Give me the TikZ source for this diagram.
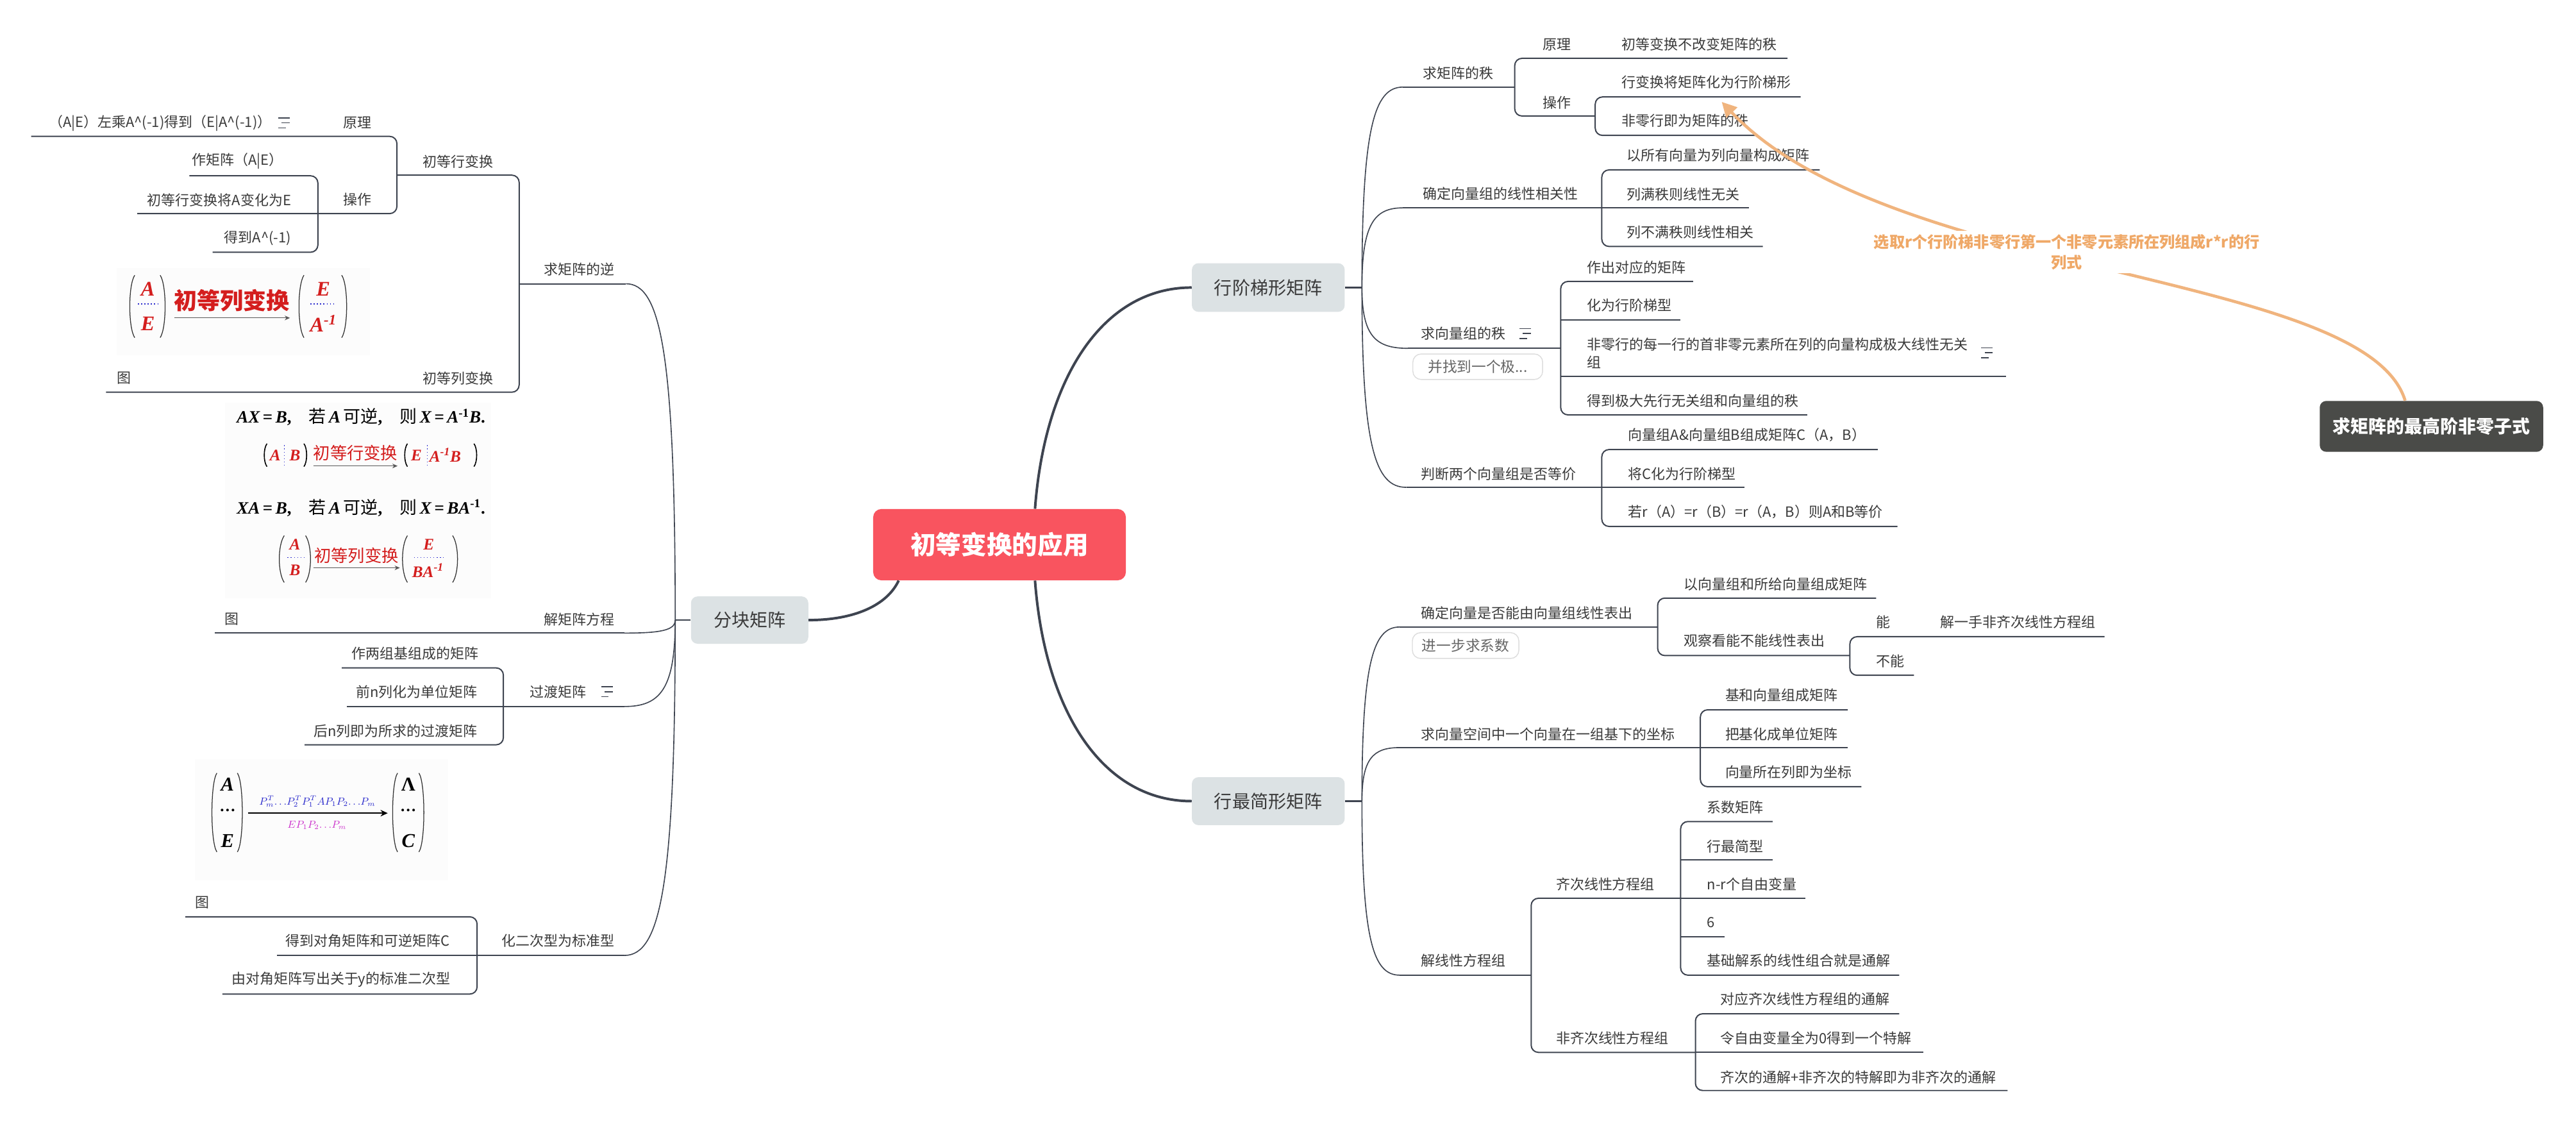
\documentclass[tikz,border=0pt]{standalone}
\usepackage{fontspec}
\setmainfont{Noto Sans CJK SC}
\newfontfamily\tms{Liberation Serif}
\usetikzlibrary{calc,arrows.meta}
\definecolor{ln}{HTML}{3E4450}
\definecolor{txt}{HTML}{3A3A3A}
\definecolor{boxfill}{HTML}{DCE2E4}
\definecolor{rootred}{HTML}{F9545F}
\definecolor{floatbg}{HTML}{4A4B48}
\definecolor{orng}{HTML}{F0B47E}
\definecolor{orngtxt}{HTML}{EFA867}
\definecolor{imgred}{HTML}{D41E1E}
\definecolor{imgblue}{HTML}{2A2ACC}
\definecolor{imgmag}{HTML}{CC33CC}
\definecolor{lblgray}{HTML}{666666}
\definecolor{lblborder}{HTML}{DDDDDD}
\definecolor{imgbg}{HTML}{FCFCFC}
\newcommand{\myfs}[2]{\fontsize{#1pt}{#2pt}\selectfont}
\newcommand{\imi}[1]{{\tms\bfseries\itshape #1}}
\newcommand{\irm}[1]{{\tms\bfseries #1}}
\newcommand{\noteicon}[2]{\draw[ln, line width=0.9pt] (#1,#2-3) -- ++(7,0) (#1+2,#2) -- ++(5,0) (#1,#2+3) -- ++(4.5,0);}
\newcommand{\myLpar}[3]{\draw[black!80, line width=0.7pt] (#1,#2) .. controls (#1-4,#2+6) and (#1-4,#3-6) .. (#1,#3);}
\newcommand{\myRpar}[3]{\draw[black!80, line width=0.7pt] (#1,#2) .. controls (#1+4,#2+6) and (#1+4,#3-6) .. (#1,#3);}
\newcommand{\mySLpar}[3]{\draw[black, line width=0.9pt] (#1,#2) .. controls (#1-2.2,#2+3) and (#1-2.2,#3-3) .. (#1,#3);}
\newcommand{\mySRpar}[3]{\draw[black, line width=0.9pt] (#1,#2) .. controls (#1+2.2,#2+3) and (#1+2.2,#3-3) .. (#1,#3);}
\tikzset{
  tnode/.style={inner sep=0pt, anchor=west, text=txt, font=\myfs{12.2}{15.6}},
  tnodeL/.style={tnode, anchor=east},
  uline/.style={draw=ln, line width=1.1pt, rounded corners=2.2mm},
  fanline/.style={draw=ln, line width=0.9pt, to path={.. controls ($(\tikztostart)!0.8!(\tikztostart |- \tikztotarget)$) and ($(\tikztostart |- \tikztotarget)!0.3!(\tikztotarget)$) .. (\tikztotarget)}},
  mainline/.style={draw=ln, line width=2.2pt},
  stub/.style={draw=ln, line width=1.2pt},
  mainbox/.style={fill=boxfill, rounded corners=2mm, text=txt, font=\myfs{15.6}{19}, inner sep=0pt},
  rootbox/.style={fill=rootred, rounded corners=2.5mm, text=white, font=\bfseries\myfs{22}{26}, inner sep=0pt},
  floatbox/.style={fill=floatbg, rounded corners=2mm, text=white, font=\bfseries\myfs{15.5}{19}, inner sep=0pt},
  lblbox/.style={draw=lblborder, line width=0.8pt, rounded corners=2.5mm, text=lblgray, font=\myfs{12.6}{15}, inner sep=0pt},
  redltr/.style={inner sep=0pt, text=imgred, font=\tms\bfseries\itshape\myfs{18}{18}},
  redsm/.style={inner sep=0pt, text=imgred, font=\tms\bfseries\itshape\myfs{14}{14}},
  blkltr/.style={inner sep=0pt, text=black, font=\tms\bfseries\itshape\myfs{17}{17}},
  imgline/.style={anchor=west, inner sep=0pt, text=black, font=\myfs{15}{17}},
  imgarrow/.style={draw=black!65, line width=0.6pt, -{Stealth[length=1.6mm,width=1.4mm]}},
  bluedots/.style={draw=imgblue, line width=0.8pt, dotted}
}
\begin{document}
\begin{tikzpicture}[x=0.5mm, y=-0.5mm]
\fill[white] (0,0) rectangle (1568,684);
\useasboundingbox (0,0) rectangle (1568,684);

% ---------- central and main topics ----------
\node[rootbox, minimum width=76.9mm, minimum height=21.7mm] (root) at (608.4,331.5) {初等变换的应用};
\node[mainbox, minimum width=46.5mm, minimum height=14.8mm] (hjt) at (772,175) {行阶梯形矩阵};
\node[mainbox, minimum width=46.5mm, minimum height=14.6mm] (hzj) at (772,487.6) {行最简形矩阵};
\node[mainbox, minimum width=35.7mm, minimum height=14.4mm] (fk) at (456.3,377.4) {分块矩阵};

\draw[mainline] ([xshift=10.8mm]root.north) .. controls +(6,-80) and +(-54,0) .. (hjt.west);
\draw[mainline] ([xshift=10.8mm]root.south) .. controls +(6,80) and +(-54,0) .. (hzj.west);
\draw[mainline] ([xshift=-30.7mm]root.south) .. controls +(-7,15) and +(28,0) .. (fk.east);

\coordinate (J1) at (829,175);
\coordinate (J2) at (829,487.6);
\coordinate (J3) at (411,377.4);
\draw[stub] (hjt.east) -- (J1);
\draw[stub] (hzj.east) -- (J2);
\draw[stub] (fk.west) -- (J3);

% ---------- right upper: 行阶梯形矩阵 ----------
\coordinate (a1) at (854,53);
\coordinate (a2) at (854,126.5);
\coordinate (a3) at (857,212);
\coordinate (a4) at (856,296.6);
\draw[fanline] (J1) to (a1);
\draw[fanline] (J1) to (a2);
\draw[fanline] (J1) to (a3);
\draw[fanline] (J1) to (a4);

\draw[uline] (a1) -- (922,53);
\draw[uline] (1088,35.5) -- (922,35.5) -- (922,70.6) -- (971,70.6);
\draw[uline] (1096,59) -- (971,59) -- (971,82.4) -- (1070,82.4);
\draw[uline] (a2) -- (1064.6,126.5);
\draw[uline] (1107.6,103.4) -- (975,103.4) -- (975,150) -- (1073,150);
\draw[uline] (a3) -- (950,212);
\draw[uline] (1030.6,171.3) -- (950,171.3) -- (950,252.5) -- (1100,252.5);
\draw[uline] (950,194.7) -- (1023,194.7);
\draw[uline] (950,229) -- (1221,229);
\draw[uline] (a4) -- (1062,296.6);
\draw[uline] (1143,273.6) -- (975,273.6) -- (975,320.4) -- (1155,320.4);

\node[tnode] (qjzdz) at (866,44.5) {求矩阵的秩};
\node[tnode] (yl1) at (939,27) {原理};
\node[tnode] (cdbh) at (987,27) {初等变换不改变矩阵的秩};
\node[tnode] (cz1) at (939,62.5) {操作};
\node[tnode] (hbh) at (987,50) {行变换将矩阵化为行阶梯形};
\node[tnode] (flh) at (987,73.5) {非零行即为矩阵的秩};
\node[tnode] (qdxl) at (866,118) {确定向量组的线性相关性};
\node[tnode] (ysy) at (990,94.4) {以所有向量为列向量构成矩阵};
\node[tnode] (lmz) at (990,118.3) {列满秩则线性无关};
\node[tnode] (lbm) at (990,141.3) {列不满秩则线性相关};
\node[tnode] (qxlz) at (865,203) {求向量组的秩};
\noteicon{925}{203}
\node[lblbox, minimum width=39.5mm, minimum height=7.75mm] (lb1) at (899.5,223.2) {并找到一个极...};
\node[tnode] (zcdy) at (966,162.7) {作出对应的矩阵};
\node[tnode] (hwjt) at (966,186) {化为行阶梯型};
\node[tnode, align=left] (flmy) at (966,215) {非零行的每一行的首非零元素所在列的向量构成极大线性无关\\组};
\noteicon{1206}{214.7}
\node[tnode] (ddjd) at (966,244) {得到极大先行无关组和向量组的秩};
\node[tnode] (pdlg) at (865,288.4) {判断两个向量组是否等价};
\node[tnode] (xlzA) at (991,264.6) {向量组A\&向量组B组成矩阵C（A，B）};
\node[tnode] (jCh) at (991,288.4) {将C化为行阶梯型};
\node[tnode] (rA) at (991,311.5) {若r（A）=r（B）=r（A，B）则A和B等价};

% ---------- right lower: 行最简形矩阵 ----------
\coordinate (b1) at (852,381.6);
\coordinate (b2) at (852,455);
\coordinate (b3) at (852,593.5);
\draw[fanline] (J2) to (b1);
\draw[fanline] (J2) to (b2);
\draw[fanline] (J2) to (b3);

\draw[uline] (b1) -- (1009,381.6);
\draw[uline] (1142,364) -- (1009,364) -- (1009,399) -- (1126,399);
\draw[uline] (1281,387.5) -- (1126,387.5) -- (1126,411) -- (1165,411);
\draw[uline] (b2) -- (1124.7,455);
\draw[uline] (1124.7,432) -- (1035,432) -- (1035,478.8) -- (1133,478.8);
\draw[uline] (b3) -- (932,593.5);
\draw[uline] (1023,546.7) -- (932,546.7) -- (932,640.5) -- (1032,640.5);
\draw[uline] (1079,500) -- (1023,500) -- (1023,593.5) -- (1156,593.5);
\draw[uline] (1023,523.3) -- (1079,523.3);
\draw[uline] (1023,546.7) -- (1099,546.7);
\draw[uline] (1023,570) -- (1049.7,570);
\draw[uline] (1156,617) -- (1032,617) -- (1032,663.7) -- (1222,663.7);
\draw[uline] (1032,640.5) -- (1170.6,640.5);

\node[tnode] (qdxs) at (865,373) {确定向量是否能由向量组线性表出};
\node[lblbox, minimum width=32.4mm, minimum height=7.85mm] (lb2) at (892.1,392.9) {进一步求系数};
\node[tnode] (yxlz) at (1025,355.5) {以向量组和所给向量组成矩阵};
\node[tnode] (gcks) at (1025,390) {观察看能不能线性表出};
\node[tnode] (neng) at (1142,378.6) {能};
\node[tnode] (jyfc) at (1181,378.6) {解一手非齐次线性方程组};
\node[tnode] (buneng) at (1142,402.3) {不能};
\node[tnode] (qxlkj) at (865,446.8) {求向量空间中一个向量在一组基下的坐标};
\node[tnode] (jhxl) at (1050,423) {基和向量组成矩阵};
\node[tnode] (bjh) at (1050,446.8) {把基化成单位矩阵};
\node[tnode] (xlsz) at (1050,470) {向量所在列即为坐标};
\node[tnode] (jxxf) at (865,584.7) {解线性方程组};
\node[tnode] (qcxx) at (947,538) {齐次线性方程组};
\node[tnode] (xsjz) at (1039,491.4) {系数矩阵};
\node[tnode] (hzjx) at (1039,515) {行最简型};
\node[tnode] (nr) at (1039,538) {n-r个自由变量};
\node[tnode] (six) at (1039,561.6) {6};
\node[tnode] (jcjx) at (1039,584.7) {基础解系的线性组合就是通解};
\node[tnode] (fqcx) at (947,631.8) {非齐次线性方程组};
\node[tnode] (dyqc) at (1047,608) {对应齐次线性方程组的通解};
\node[tnode] (lzyb) at (1047,631.8) {令自由变量全为0得到一个特解};
\node[tnode] (qcdt) at (1047,655.6) {齐次的通解+非齐次的特解即为非齐次的通解};

% ---------- left: 分块矩阵 ----------
\coordinate (c1) at (381,172.7);
\coordinate (c2) at (380,385.3);
\coordinate (c3) at (380,430);
\coordinate (c4) at (380,581.5);
\draw[fanline] (J3) to (c1);
\draw[fanline] (J3) to (c2);
\draw[fanline] (J3) to (c3);
\draw[fanline] (J3) to (c4);

\draw[uline] (c1) -- (316,172.7);
\draw[uline] (241.6,106.6) -- (316,106.6) -- (316,238.7) -- (64.5,238.7);
\draw[uline] (19,83) -- (241.6,83) -- (241.6,130) -- (83.6,130);
\draw[uline] (115.3,107) -- (193.5,107) -- (193.5,153.5) -- (129.4,153.5);
\draw[uline] (c2) -- (130.8,385.3);
\draw[uline] (c3) -- (211,430);
\draw[uline] (208,406.5) -- (306.4,406.5) -- (306.4,453.3) -- (185.4,453.3);
\draw[uline] (c4) -- (168.5,581.5);
\draw[uline] (112.8,558) -- (290.4,558) -- (290.4,605) -- (135.4,605);

\node[tnodeL] (qjzdn) at (374.3,164) {求矩阵的逆};
\node[tnodeL] (cdhbh) at (300.4,98.3) {初等行变换};
\node[tnodeL] (yl2) at (226.3,74.8) {原理};
\node[tnode] (AE) at (29.6,74.8) {（A|E）左乘A\textasciicircum(-1)得到（E|A\textasciicircum(-1)）};
\noteicon{169.4}{74.8}
\node[tnodeL] (cz2) at (226.3,121.6) {操作};
\node[tnodeL] (zjz) at (172.4,98.2) {作矩阵（A|E）};
\node[tnodeL] (cdA) at (177.3,121.6) {初等行变换将A变化为E};
\node[tnodeL] (ddA) at (177.3,145) {得到A\textasciicircum(-1)};
\node[tnodeL] (cdlbh) at (300.4,230.2) {初等列变换};
\node[tnode] (tu1) at (70.9,230.2) {图};
\node[tnodeL] (jjzfc) at (374.3,377) {解矩阵方程};
\node[tnode] (tu2) at (136.6,377) {图};
\node[tnodeL] (gdjz) at (357,421) {过渡矩阵};
\noteicon{366}{421}
\node[tnodeL] (zlzj) at (291.5,397.6) {作两组基组成的矩阵};
\node[tnodeL] (qnl) at (290.7,421) {前n列化为单位矩阵};
\node[tnodeL] (hnl) at (290.7,445) {后n列即为所求的过渡矩阵};
\node[tnodeL] (hecx) at (374.3,572.5) {化二次型为标准型};
\node[tnode] (tu3) at (118.8,549.4) {图};
\node[tnodeL] (ddjz) at (273.8,572.5) {得到对角矩阵和可逆矩阵C};
\node[tnodeL] (ydjz) at (274.2,596.4) {由对角矩阵写出关于y的标准二次型};

% ---------- image 1 ----------
\fill[imgbg] (70.9,163) rectangle (225.3,216);
\myLpar{82}{167.5}{205.5}
\myRpar{97.5}{167.5}{205.5}
\node[redltr] (i1a) at (90,176) {A};
\draw[bluedots] (84,185) -- (96,185);
\node[redltr] (i1e) at (90,197) {E};
\node[inner sep=0pt, text=imgred, font=\bfseries\myfs{20}{20}] (i1t) at (141,183) {初等列变换};
\draw[imgarrow] (106,193.5) -- (176.5,193.5);
\myLpar{185}{167.5}{205.5}
\myRpar{208}{167.5}{205.5}
\node[redltr] (i1e2) at (196.8,176) {E};
\draw[bluedots] (189,185) -- (204,185);
\node[redltr] (i1ai) at (196.8,197) {A\textsuperscript{-1}};

% ---------- image 2 ----------
\fill[imgbg] (137,245) rectangle (299,364);
\node[imgline] (l1) at (144,253.7) {\imi{AX}\irm{\,=\,}\imi{B}\irm{,}\quad 若\,\imi{A}\,可逆\irm{,}\quad 则\,\imi{X}\irm{\,=\,}\imi{A}\textsuperscript{\irm{-1}}\imi{B}\irm{.}};
\mySLpar{162.5}{270}{284}
\node[redsm] (l2a) at (167.5,277) {A};
\draw[bluedots] (173,271) -- (173,283);
\node[redsm] (l2b) at (179.5,277) {B};
\mySRpar{185}{270}{284}
\node[inner sep=0pt, text=imgred, font=\myfs{14.6}{15}] (l2t) at (216.4,275.5) {初等行变换};
\draw[imgarrow] (190.7,283.6) -- (242,283.6);
\mySLpar{248}{270}{284}
\node[redsm] (l2e) at (253.5,277) {E};
\draw[bluedots] (260,271) -- (260,283);
\node[redsm] (l2ai) at (271,277) {A\textsuperscript{-1}B};
\mySRpar{288.5}{270}{284}
\node[imgline] (l3) at (144,309) {\imi{XA}\irm{\,=\,}\imi{B}\irm{,}\quad 若\,\imi{A}\,可逆\irm{,}\quad 则\,\imi{X}\irm{\,=\,}\imi{BA}\textsuperscript{\irm{-1}}\irm{.}};
\myLpar{173}{326}{354.5}
\node[redsm] (l4a) at (179.5,331.3) {A};
\draw[bluedots] (175,339.4) -- (185,339.4);
\node[redsm] (l4b) at (179.5,347.2) {B};
\myRpar{186}{326}{354.5}
\node[inner sep=0pt, text=imgred, font=\myfs{14.6}{15}] (l4t) at (217,338) {初等列变换};
\draw[imgarrow] (190.7,345.6) -- (243.4,345.6);
\myLpar{248}{326}{354.5}
\node[redsm] (l4e) at (261,331.3) {E};
\draw[bluedots] (252,339.4) -- (270,339.4);
\node[redsm] (l4bai) at (260.5,347.2) {BA\textsuperscript{-1}};
\myRpar{275.5}{326}{354.5}

% ---------- image 3 ----------
\fill[imgbg] (118.8,462) rectangle (272.6,535.8);
\myLpar{132}{470.5}{518.5}
\myRpar{144.5}{470.5}{518.5}
\node[blkltr] (i3a) at (138.5,477.4) {A};
\node[blkltr, font=\tms\bfseries\myfs{14}{14}] (i3d) at (138.5,493) {…};
\node[blkltr] (i3e) at (138.5,511.9) {E};
\draw[draw=black, line width=0.9pt, -{Stealth[length=2.2mm,width=2mm]}] (150.9,494.9) -- (236,494.9);
\node[inner sep=0pt, text=imgblue, font=\myfs{8.6}{8.6}] (i3u) at (193.2,487.8) {$P_m^T\!\ldots\! P_2^T P_1^T A P_1 P_2\!\ldots\! P_m$};
\node[inner sep=0pt, text=imgmag, font=\myfs{8.6}{8.6}] (i3l) at (193,502.2) {$E P_1 P_2\!\ldots\! P_m$};
\myLpar{242}{470.5}{518.5}
\myRpar{255}{470.5}{518.5}
\node[blkltr, font=\tms\bfseries\myfs{17}{17}] (i3lam) at (248.5,477.4) {Λ};
\node[blkltr, font=\tms\bfseries\myfs{14}{14}] (i3d2) at (248.5,493) {…};
\node[blkltr] (i3c) at (248.5,511.9) {C};

% ---------- floating topic and relationship ----------
\node[floatbox, minimum width=68mm, minimum height=15.5mm] (fbox) at (1480,259.5) {求矩阵的最高阶非零子式};
\coordinate (tip) at (1048,62);
\draw[orng, line width=2.6pt, -{Triangle[length=4.5mm,width=4.5mm]}] ([xshift=-8mm]fbox.north) .. controls (1440,165) and (1150,170) .. (tip);
\node[fill=white, inner sep=1mm, text=orngtxt, font=\bfseries\myfs{13.4}{17.8}, align=center] (olbl) at (1258,153.5) {选取r个行阶梯非零行第一个非零元素所在列组成r*r的行\\列式};
\end{tikzpicture}
\end{document}
